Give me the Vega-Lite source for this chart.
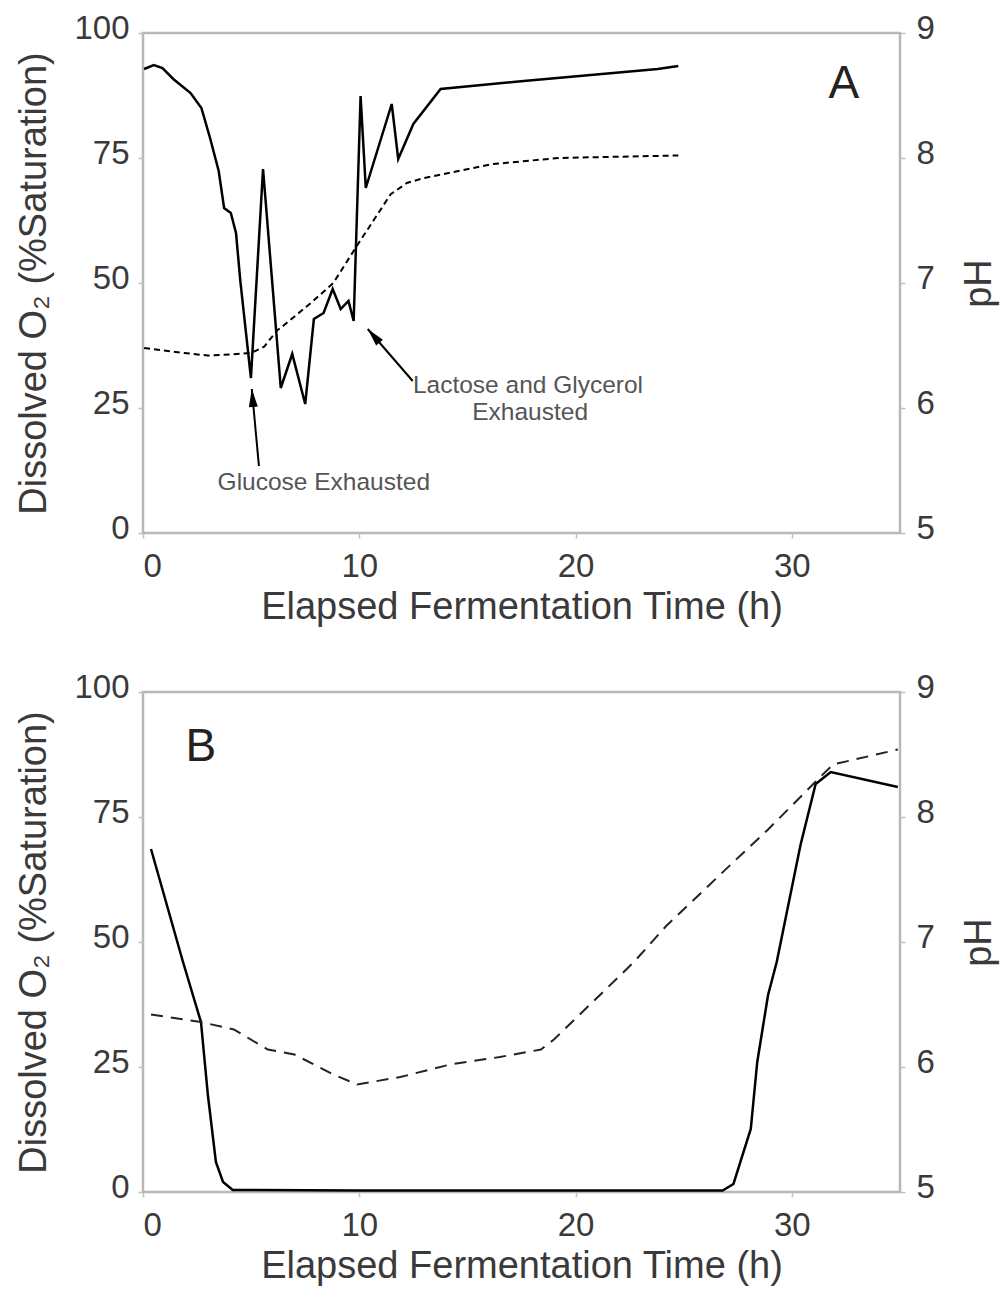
{
  "$schema": "https://vega.github.io/schema/vega-lite/v6.json",
  "padding": {"left": 14, "top": 10, "right": 5, "bottom": 0},
  "background": "white",
  "spacing": 41,
  "config": {
    "font": "Liberation Sans",
    "view": {"stroke": "#b8b8b8", "strokeWidth": 2.5},
    "axis": {
      "labelFont": "Liberation Sans", "titleFont": "Liberation Sans",
      "labelFontSize": 33, "titleFontSize": 38, "titleFontWeight": "normal",
      "grid": false, "domain": false, "tickColor": "#c0c0c0", "tickSize": 5, "tickWidth": 1.5,
      "labelColor": "#3a3a3a", "titleColor": "#3a3a3a"
    },
    "axisX": {"labelPadding": 12, "titlePadding": 5},
    "axisLeft": {"labelPadding": 9, "titlePadding": 20, "labelOffset": -5},
    "axisRight": {"labelPadding": 11, "titlePadding": 26, "labelOffset": -5, "titleBaseline": "top"}
  },
  "datasets": {
    "a_do": [
      {"t": 0.05, "do": 92.8}, {"t": 0.5, "do": 93.6}, {"t": 0.9, "do": 93.0}, {"t": 1.4, "do": 90.8},
      {"t": 2.2, "do": 88.0}, {"t": 2.7, "do": 85.0}, {"t": 3.1, "do": 79.0}, {"t": 3.5, "do": 72.4},
      {"t": 3.75, "do": 65.0}, {"t": 4.06, "do": 64.0}, {"t": 4.3, "do": 60.0}, {"t": 4.5, "do": 50.4},
      {"t": 4.99, "do": 31.0}, {"t": 5.55, "do": 72.8}, {"t": 6.37, "do": 29.0}, {"t": 6.9, "do": 35.8},
      {"t": 7.5, "do": 25.8}, {"t": 7.9, "do": 42.8}, {"t": 8.35, "do": 44.0}, {"t": 8.77, "do": 48.8},
      {"t": 9.14, "do": 44.8}, {"t": 9.5, "do": 46.4}, {"t": 9.74, "do": 42.4}, {"t": 10.06, "do": 87.4},
      {"t": 10.3, "do": 69.0}, {"t": 11.5, "do": 85.8}, {"t": 11.8, "do": 74.8}, {"t": 12.5, "do": 81.8},
      {"t": 13.76, "do": 88.8}, {"t": 17.6, "do": 90.4}, {"t": 23.8, "do": 92.8}, {"t": 24.75, "do": 93.4}
    ],
    "a_ph": [
      {"t": 0.05, "ph": 6.48}, {"t": 1.9, "ph": 6.44}, {"t": 3.0, "ph": 6.42}, {"t": 4.2, "ph": 6.43},
      {"t": 5.0, "ph": 6.44}, {"t": 5.6, "ph": 6.49}, {"t": 6.2, "ph": 6.62}, {"t": 6.5, "ph": 6.66},
      {"t": 7.76, "ph": 6.84}, {"t": 8.8, "ph": 7.0}, {"t": 9.9, "ph": 7.3}, {"t": 11.45, "ph": 7.71},
      {"t": 12.2, "ph": 7.8}, {"t": 13.0, "ph": 7.84}, {"t": 16.1, "ph": 7.95}, {"t": 19.2, "ph": 8.0},
      {"t": 24.75, "ph": 8.02}
    ],
    "b_do": [
      {"t": 0.37, "do": 68.6}, {"t": 1.85, "do": 46.0}, {"t": 2.68, "do": 34.0}, {"t": 3.0, "do": 19.4},
      {"t": 3.37, "do": 6.0}, {"t": 3.7, "do": 2.0}, {"t": 4.15, "do": 0.4}, {"t": 10.0, "do": 0.3},
      {"t": 20.0, "do": 0.3}, {"t": 26.8, "do": 0.3}, {"t": 27.3, "do": 1.6}, {"t": 28.1, "do": 12.6},
      {"t": 28.4, "do": 26.0}, {"t": 28.9, "do": 39.4}, {"t": 29.3, "do": 46.0}, {"t": 30.4, "do": 69.4},
      {"t": 31.1, "do": 81.6}, {"t": 31.8, "do": 84.0}, {"t": 34.9, "do": 81.0}
    ],
    "b_ph": [
      {"t": 0.37, "ph": 6.42}, {"t": 2.68, "ph": 6.36}, {"t": 4.2, "ph": 6.3}, {"t": 5.77, "ph": 6.14},
      {"t": 7.0, "ph": 6.1}, {"t": 8.8, "ph": 5.94}, {"t": 9.9, "ph": 5.86}, {"t": 11.9, "ph": 5.92},
      {"t": 14.2, "ph": 6.02}, {"t": 16.5, "ph": 6.08}, {"t": 18.4, "ph": 6.14}, {"t": 19.0, "ph": 6.22},
      {"t": 22.7, "ph": 6.84}, {"t": 24.2, "ph": 7.13}, {"t": 27.3, "ph": 7.64}, {"t": 28.9, "ph": 7.9},
      {"t": 31.2, "ph": 8.3}, {"t": 31.9, "ph": 8.42}, {"t": 34.9, "ph": 8.54}
    ],
    "a_notes": [
      {"t": 8.36, "do": 10.0, "label": "Glucose Exhausted"},
      {"t": 17.8, "do": 29.4, "label": "Lactose and Glycerol"},
      {"t": 17.9, "do": 24.0, "label": "Exhausted"}
    ],
    "a_arrows": [
      {"name": "glucose", "t": 5.36, "do": 13.4, "t2": 5.03, "do2": 28.8},
      {"name": "lactose", "t": 12.47, "do": 30.4, "t2": 10.39, "do2": 40.8}
    ],
    "a_letter": [{"t": 32.4, "do": 89.8, "label": "A"}],
    "b_letter": [{"t": 2.68, "do": 89.0, "label": "B"}]
  },
  "vconcat": [
    {
      "width": 757, "height": 500,
      "resolve": {"scale": {"y": "independent"}},
      "layer": [
        {
          "data": {"name": "a_do"},
          "mark": {"type": "line", "color": "black", "strokeWidth": 2.5},
          "encoding": {
            "x": {"field": "t", "type": "quantitative", "scale": {"domain": [0, 35], "nice": false}, "axis": {"values": [0, 10, 20, 30], "title": "Elapsed Fermentation Time (h)"}},
            "y": {"field": "do", "type": "quantitative", "scale": {"domain": [0, 100], "nice": false}, "axis": {"orient": "left", "values": [0, 25, 50, 75, 100], "title": "Dissolved O₂ (%Saturation)"}}
          }
        },
        {
          "data": {"name": "a_ph"},
          "mark": {"type": "line", "color": "black", "strokeWidth": 2, "strokeDash": [6, 4]},
          "encoding": {
            "x": {"field": "t", "type": "quantitative"},
            "y": {"field": "ph", "type": "quantitative", "scale": {"domain": [5, 9], "nice": false, "zero": false}, "axis": {"orient": "right", "values": [5, 6, 7, 8, 9], "title": "pH", "titleAngle": 270}}
          }
        },
        {
          "data": {"name": "a_notes"},
          "mark": {"type": "text", "fontSize": 24.5, "color": "#555555", "align": "center", "baseline": "middle"},
          "encoding": {
            "x": {"field": "t", "type": "quantitative"},
            "y": {"field": "do", "type": "quantitative", "scale": {"domain": [0, 100], "nice": false}, "axis": null},
            "text": {"field": "label"}
          }
        },
        {
          "data": {"name": "a_letter"},
          "mark": {"type": "text", "fontSize": 46, "color": "#222222", "align": "center", "baseline": "middle"},
          "encoding": {
            "x": {"field": "t", "type": "quantitative"},
            "y": {"field": "do", "type": "quantitative", "scale": {"domain": [0, 100], "nice": false}, "axis": null},
            "text": {"field": "label"}
          }
        },
        {
          "data": {"name": "a_arrows"},
          "mark": {"type": "rule", "color": "black", "strokeWidth": 2},
          "encoding": {
            "x": {"field": "t", "type": "quantitative"},
            "y": {"field": "do", "type": "quantitative", "scale": {"domain": [0, 100], "nice": false}, "axis": null},
            "x2": {"field": "t2"},
            "y2": {"field": "do2"}
          }
        },
        {
          "data": {"name": "a_arrows"},
          "transform": [{"filter": "datum.name === 'glucose'"}],
          "mark": {"type": "point", "shape": "M0,0L-0.45,1.8L0.45,1.8Z", "size": 400, "filled": true, "color": "black", "opacity": 1, "angle": -5},
          "encoding": {
            "x": {"field": "t2", "type": "quantitative"},
            "y": {"field": "do2", "type": "quantitative", "scale": {"domain": [0, 100], "nice": false}, "axis": null}
          }
        },
        {
          "data": {"name": "a_arrows"},
          "transform": [{"filter": "datum.name === 'lactose'"}],
          "mark": {"type": "point", "shape": "M0,0L-0.45,1.8L0.45,1.8Z", "size": 400, "filled": true, "color": "black", "opacity": 1, "angle": -41},
          "encoding": {
            "x": {"field": "t2", "type": "quantitative"},
            "y": {"field": "do2", "type": "quantitative", "scale": {"domain": [0, 100], "nice": false}, "axis": null}
          }
        }
      ]
    },
    {
      "width": 757, "height": 500,
      "resolve": {"scale": {"y": "independent"}},
      "layer": [
        {
          "data": {"name": "b_do"},
          "mark": {"type": "line", "color": "black", "strokeWidth": 2.5},
          "encoding": {
            "x": {"field": "t", "type": "quantitative", "scale": {"domain": [0, 35], "nice": false}, "axis": {"values": [0, 10, 20, 30], "title": "Elapsed Fermentation Time (h)"}},
            "y": {"field": "do", "type": "quantitative", "scale": {"domain": [0, 100], "nice": false}, "axis": {"orient": "left", "values": [0, 25, 50, 75, 100], "title": "Dissolved O₂ (%Saturation)"}}
          }
        },
        {
          "data": {"name": "b_ph"},
          "mark": {"type": "line", "color": "#222222", "strokeWidth": 2, "strokeDash": [12, 8]},
          "encoding": {
            "x": {"field": "t", "type": "quantitative"},
            "y": {"field": "ph", "type": "quantitative", "scale": {"domain": [5, 9], "nice": false, "zero": false}, "axis": {"orient": "right", "values": [5, 6, 7, 8, 9], "title": "pH", "titleAngle": 270}}
          }
        },
        {
          "data": {"name": "b_letter"},
          "mark": {"type": "text", "fontSize": 46, "color": "#222222", "align": "center", "baseline": "middle"},
          "encoding": {
            "x": {"field": "t", "type": "quantitative"},
            "y": {"field": "do", "type": "quantitative", "scale": {"domain": [0, 100], "nice": false}, "axis": null},
            "text": {"field": "label"}
          }
        }
      ]
    }
  ]
}
